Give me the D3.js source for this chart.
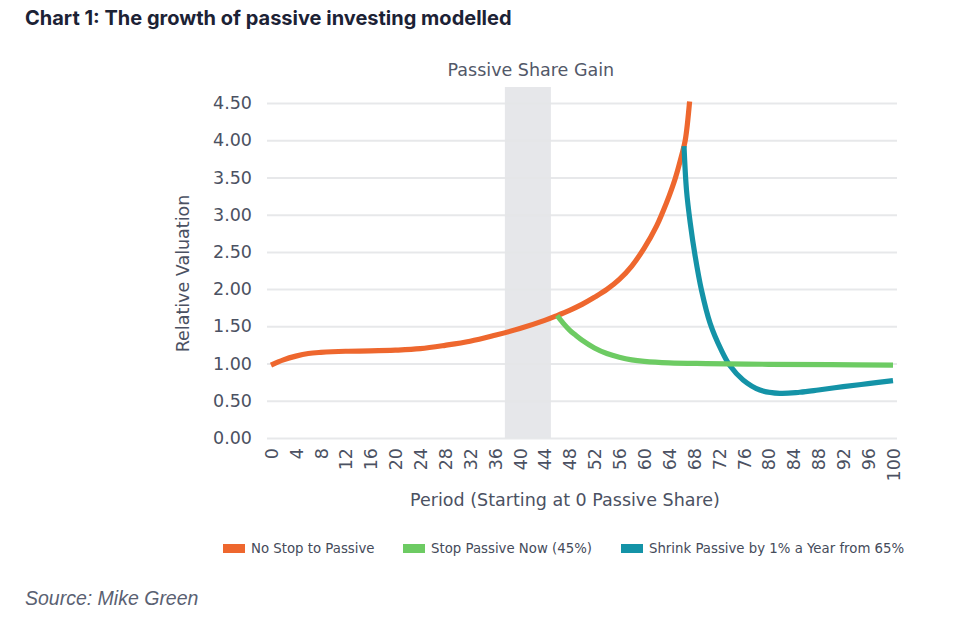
<!DOCTYPE html>
<html>
<head>
<meta charset="utf-8">
<script src="https://cdn.jsdelivr.net/npm/d3@7"></script>
<style>
  html, body { margin: 0; padding: 0; background: #fff; }
  svg { display: block; }
</style>
</head>
<body>
<svg id="chart" width="955" height="618"></svg>
<script>
// ---------- DATA ----------
const xTicks = d3.range(0, 101, 4);
const yTicks = [0, 0.5, 1, 1.5, 2, 2.5, 3, 3.5, 4, 4.5];
const shadeStart = 37.6, shadeEnd = 45;

const seriesNames = ["No Stop to Passive", "Stop Passive Now (45%)", "Shrink Passive by 1% a Year from 65%"];

const orangePeriods = [0, 2, 4, 6, 8, 12, 16, 20, 24, 28, 32, 36, 40, 44, 46, 48, 50, 52, 54, 56, 58, 60, 62, 63, 64, 65, 66, 66.6, 67.3];
const orangeValues  = [0.98, 1.05, 1.10, 1.135, 1.15, 1.165, 1.17, 1.18, 1.20, 1.245, 1.30, 1.38, 1.47, 1.58, 1.645, 1.715, 1.795, 1.89, 1.995, 2.13, 2.31, 2.55, 2.85, 3.04, 3.25, 3.49, 3.79, 4.00, 4.52];

const greenPeriods = [46, 47, 48, 49, 50, 52, 54, 56, 58, 60, 64, 70, 80, 90, 100];
const greenValues  = [1.645, 1.54, 1.45, 1.38, 1.315, 1.21, 1.135, 1.085, 1.05, 1.03, 1.01, 1.0, 0.99, 0.985, 0.98];

const tealPeriods = [66.4, 66.8, 67.4, 68.2, 69.2, 70.6, 72.4, 73.8, 75.9, 78.6, 81.8, 85, 88, 92, 96, 100];
const tealValues  = [3.92, 3.33, 2.89, 2.44, 1.99, 1.54, 1.18, 0.97, 0.78, 0.645, 0.60, 0.615, 0.645, 0.69, 0.73, 0.77];

const colors = ["#ee672e", "#6dcb63", "#1493a7"];

// ---------- LAYOUT ----------
const svg = d3.select("#chart");
const x = d3.scaleLinear().domain([0, 100]).range([271, 893]);
const y = d3.scaleLinear().domain([0, 4.5]).range([438, 103]);
const textColor = "#4b5162";
const chartFont = "'DejaVu Sans', sans-serif";

// Title
svg.append("text")
  .attr("x", 25).attr("y", 25)
  .attr("font-family", "Inter, 'Noto Sans', sans-serif")
  .attr("font-weight", 700)
  .attr("font-size", 20)
  .attr("fill", "#1c2235")
  .text("Chart 1: The growth of passive investing modelled");

// Shaded band
svg.append("rect")
  .attr("x", x(shadeStart))
  .attr("y", 87)
  .attr("width", x(shadeEnd) - x(shadeStart))
  .attr("height", y(0) - 87)
  .attr("fill", "#e6e7ea");

svg.append("text")
  .attr("x", (x(shadeStart) + x(shadeEnd)) / 2 + 3)
  .attr("y", 76)
  .attr("text-anchor", "middle")
  .attr("font-family", chartFont)
  .attr("font-size", 17.5)
  .attr("fill", "#525868")
  .text("Passive Share Gain");

// Y axis (gridlines + labels)
const yAxis = d3.axisLeft(y)
  .tickValues(yTicks)
  .tickSize(-(897 - 267))
  .tickPadding(15)
  .tickFormat(d3.format(".2f"));
const yg = svg.append("g")
  .attr("transform", "translate(267,0)")
  .call(yAxis);
yg.select(".domain").remove();
yg.selectAll(".tick line").attr("stroke", "#e4e5e8").attr("stroke-width", 2).attr("opacity", 0.9);
yg.selectAll(".tick text")
  .attr("font-family", chartFont)
  .attr("font-size", 17.5)
  .attr("fill", textColor);

// X axis labels (rotated)
const xAxis = d3.axisBottom(x).tickValues(xTicks).tickSize(0).tickPadding(0);
const xg = svg.append("g")
  .attr("transform", `translate(0,${y(0)})`)
  .call(xAxis);
xg.select(".domain").remove();
xg.selectAll(".tick text")
  .attr("font-family", chartFont)
  .attr("font-size", 17.5)
  .attr("fill", textColor)
  .attr("text-anchor", "end")
  .attr("transform", "translate(0,10) rotate(-90)")
  .attr("x", 0).attr("y", 0)
  .attr("dy", "0.36em");

// Axis titles
svg.append("text")
  .attr("transform", `translate(189,${(y(0) + y(4.5)) / 2 + 3}) rotate(-90)`)
  .attr("text-anchor", "middle")
  .attr("font-family", chartFont)
  .attr("font-size", 17.5)
  .attr("fill", textColor)
  .text("Relative Valuation");

svg.append("text")
  .attr("x", 565).attr("y", 506)
  .attr("text-anchor", "middle")
  .attr("font-family", chartFont)
  .attr("font-size", 17.5)
  .attr("fill", textColor)
  .text("Period (Starting at 0 Passive Share)");

// Lines
const line = d3.line()
  .x(d => x(d[0]))
  .y(d => y(d[1]))
  .curve(d3.curveCatmullRom.alpha(0.5));

const zip = (a, b) => a.map((p, i) => [p, b[i]]);
const series = [
  zip(orangePeriods, orangeValues),
  zip(greenPeriods, greenValues),
  zip(tealPeriods, tealValues)
];
const drawOrder = [0, 2, 1];
drawOrder.forEach(i => {
  svg.append("path")
    .datum(series[i])
    .attr("d", line)
    .attr("fill", "none")
    .attr("stroke", colors[i])
    .attr("stroke-width", 5.2)
    .attr("stroke-linejoin", "round");
});

// Legend
const legendX = [223, 403, 621];
const lg = svg.append("g");
seriesNames.forEach((name, i) => {
  lg.append("rect")
    .attr("x", legendX[i]).attr("y", 544)
    .attr("width", 22).attr("height", 9)
    .attr("fill", colors[i]);
  lg.append("text")
    .attr("x", legendX[i] + 28).attr("y", 553)
    .attr("font-family", chartFont)
    .attr("font-size", 13.3)
    .attr("fill", "#454b5a")
    .text(name);
});

// Source
svg.append("text")
  .attr("x", 25).attr("y", 605)
  .attr("font-family", "'Liberation Sans', Arial, sans-serif")
  .attr("font-style", "italic")
  .attr("font-size", 19.5)
  .attr("fill", "#5a6172")
  .text("Source: Mike Green");
</script>
</body>
</html>
